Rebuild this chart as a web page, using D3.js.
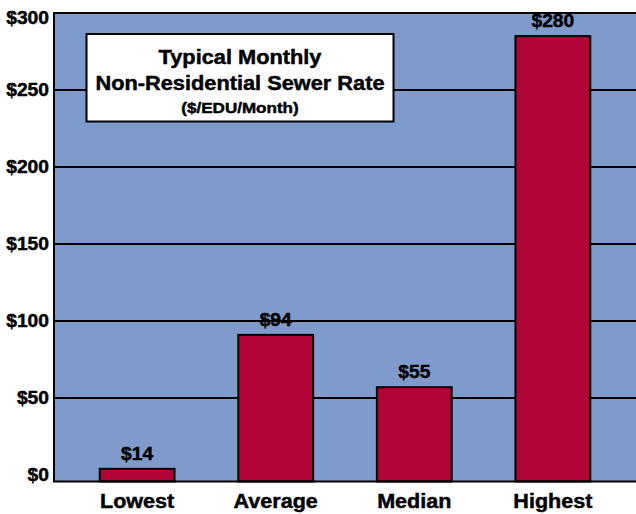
<!DOCTYPE html>
<html>
<head>
<meta charset="utf-8">
<script src="https://cdn.jsdelivr.net/npm/d3@7"></script>
<style>
  body { margin: 0; background: #fff; }
  text { font-family: "Liberation Sans", Arial, sans-serif; font-weight: bold; fill: #000;
         stroke: #000; stroke-width: 0.45px; }
</style>
</head>
<body>
<svg id="chart" width="636" height="514"></svg>
<script>
// data
const categories = ["Lowest", "Average", "Median", "Highest"];
const barValues = [4, 91, 57, 285];          // bar heights as drawn
const barLabels = ["$14", "$94", "$55", "$280"];
const tickValues = [0, 50, 100, 150, 200, 250, 300];
const titleLines = ["Typical Monthly", "Non-Residential Sewer Rate"];
const subTitle = "($/EDU/Month)";

const plotLeft = 54, plotRight = 636, plotTop = 13, zeroY = 475, plotBottom = 481.5;
const sx = 1.1; // the original lettering is a bit wide

const svg = d3.select("#chart");

const x = d3.scaleBand()
    .domain(categories)
    .range([plotLeft, plotRight])
    .paddingInner(0.46)
    .paddingOuter(0.33);

const y = d3.scaleLinear()
    .domain([0, 300])
    .range([zeroY, plotTop]);

// helper for the stretched text
function label(g, tx, ty, str, size, anchor) {
  return g.append("text")
    .attr("transform", "translate(" + tx + "," + ty + ") scale(" + sx + ",1)")
    .attr("text-anchor", anchor || "middle")
    .style("font-size", size + "px")
    .text(str);
}

// plot background
svg.append("rect")
  .attr("x", plotLeft).attr("y", plotTop)
  .attr("width", plotRight - plotLeft).attr("height", plotBottom - plotTop)
  .attr("fill", "#7f9bcc");

// gridlines
svg.append("g")
  .selectAll("line")
  .data(tickValues.filter(d => d > 0 && d < 300))
  .join("line")
    .attr("x1", plotLeft).attr("x2", plotRight)
    .attr("y1", d => y(d)).attr("y2", d => y(d))
    .attr("stroke", "#000").attr("stroke-width", 2);

// title box
const tb = svg.append("g");
tb.append("rect")
  .attr("x", 86.5).attr("y", 34)
  .attr("width", 307).attr("height", 87.5)
  .attr("fill", "#fff").attr("stroke", "#000").attr("stroke-width", 2);
label(tb, 240, 63.5, titleLines[0], 19.8);
label(tb, 240, 90, titleLines[1], 19.8);
label(tb, 240, 112.5, subTitle, 15.5);

// bars
svg.append("g")
  .selectAll("rect")
  .data(barValues)
  .join("rect")
    .attr("x", (d, i) => x(categories[i]))
    .attr("y", d => y(d))
    .attr("width", x.bandwidth())
    .attr("height", d => plotBottom - y(d))
    .attr("fill", "#b10537")
    .attr("stroke", "#000").attr("stroke-width", 2);

// value labels
const vl = svg.append("g");
barValues.forEach((d, i) => {
  label(vl, x(categories[i]) + x.bandwidth() / 2, y(d) - 9, barLabels[i], 17.5);
});

// frame
svg.append("path")
  .attr("d", "M" + plotRight + "," + plotTop + "H" + plotLeft + "V" + plotBottom + "H" + plotRight)
  .attr("fill", "none").attr("stroke", "#000").attr("stroke-width", 2);

// y tick labels ($300 sits a little lower in the original)
const yl = svg.append("g");
tickValues.forEach(d => {
  label(yl, 49, Math.max(y(d), 18) + 6, "$" + d, 17.5, "end");
});

// category labels
const xl = svg.append("g");
categories.forEach(c => {
  label(xl, x(c) + x.bandwidth() / 2, 507.5, c, 19.6);
});
</script>
</body>
</html>
